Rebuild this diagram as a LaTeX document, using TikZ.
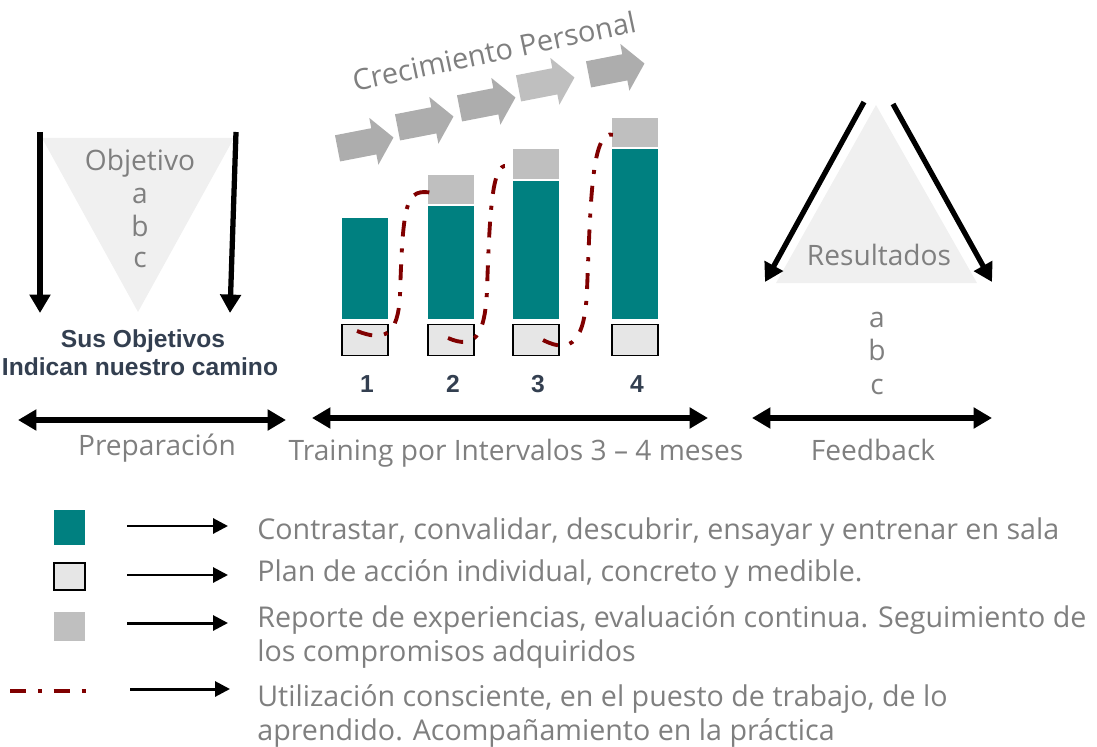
\documentclass[tikz,border=0pt]{standalone}
\usepackage{fontspec}
\setmainfont{Open Sans}
\newfontfamily\arialfont{Liberation Sans}
\usepackage{xcolor}
\definecolor{colorPractice}{HTML}{008080}
\definecolor{colorReport}{HTML}{BFBFBF}
\definecolor{colorPlan}{HTML}{E6E6E6}
\definecolor{colorUse}{HTML}{800000}
\definecolor{colorText}{HTML}{7F7F7F}
\definecolor{colorDark}{HTML}{333F50}
\definecolor{colorShape}{HTML}{F0F0F0}
\colorlet{colorGrowth}{black!32}
\usetikzlibrary{arrows.meta, shapes.arrows, positioning}
\tikzset{
  lbl/.style={text=colorText, font=\fontsize{16}{20}\selectfont, inner sep=0pt},
  keytext/.style={lbl, anchor=base west, font=\fontsize{16.3}{20}\selectfont},
  dark/.style={text=colorDark, font=\arialfont\bfseries\fontsize{14}{17}\selectfont, inner sep=0pt},
  planbox/.style={draw=black, line width=0.9pt, fill=colorPlan, minimum width=0.92cm, minimum height=0.62cm, inner sep=0pt},
  usepath/.style={colorUse, line width=2.2pt, dash pattern=on 9pt off 6.8pt on 2.3pt off 6.8pt},
  downarrow/.style={line width=3pt, -{Triangle[length=10.5pt, width=11.5pt]}},
  spanarrow/.style={line width=3pt, {Triangle[length=10.5pt, width=11.5pt]}-{Triangle[length=10.5pt, width=11.5pt]}},
  keyarrow/.style={line width=1.7pt, -{Triangle[length=8.5pt, width=8.5pt]}},
  keysquare/.style={minimum width=0.62cm, inner sep=0pt},
  growth/.style={single arrow, fill=colorGrowth, rotate=11, minimum height=1.14cm, minimum width=0.94cm, inner xsep=0pt, inner ysep=0.26cm, single arrow head extend=0.21cm, single arrow tip angle=100},
}
\begin{document}
\begin{tikzpicture}[x=0.02cm, y=-0.02cm]
\useasboundingbox (0,0) rectangle (1097,746);

\fill[colorShape] (42,138) -- (234,138) -- (138,312) -- cycle;
\node[lbl, anchor=base] (obj) at (140,171) {Objetivo};
\foreach \ch/\yy in {a/204, b/236, c/268} \node[lbl, anchor=base] (obj\ch) at (140,\yy) {\ch};
\coordinate (objLtop) at (40,132); \coordinate (objLend) at (40,313);
\coordinate (objRtop) at (236,132); \coordinate (objRend) at (230,313);
\draw[downarrow] (objLtop) -- (objLend);
\draw[downarrow] (objRtop) -- (objRend);
\node[dark, anchor=base] (sus) at (143,347) {Sus Objetivos};
\node[dark, anchor=base] (indican) at (140,375) {Indican nuestro camino};

\foreach \i/\xx/\yy/\cc in {1/360/144/colorGrowth, 2/420/123/colorGrowth, 3/482/104/colorGrowth, 4/541/84/colorReport, 5/611/70/colorGrowth}
  \node[growth, fill=\cc] (grow\i) at (\xx,\yy) {};
\node[lbl, rotate=12, font=\fontsize{16.5}{20}\selectfont] (growtxt) at (494,51) {Crecimiento Personal};

\foreach \i/\bx/\tp/\gp in {1/342/218/218, 2/428/206/175, 3/513/181/149, 4/612/149/118} {
  \fill[colorPractice] (\bx,\tp) rectangle (\bx+46,319);
  \ifnum\gp<\tp \fill[colorReport] (\bx,\gp) rectangle (\bx+46,\tp-2); \fi
  \node[planbox] (box\i) at (\bx+23,340) {};
  \node[dark, font=\arialfont\bfseries\fontsize{14}{16}\selectfont, anchor=base] (num\i) at (\bx+25,392) {\i};
}
\draw[usepath] (357,331) .. controls (385,342) and (398,335) .. (400,295) .. controls (403,200) and (406,188) .. (433,193);
\draw[usepath] (448,338) .. controls (475,350) and (485,335) .. (487,290) .. controls (490,200) and (493,158) .. (510,167);
\draw[usepath] (543,340) .. controls (572,355) and (585,340) .. (587,290) .. controls (591,190) and (592,120) .. (618,137);

\fill[colorShape] (876,105) -- (776,283) -- (977,283) -- cycle;
\coordinate (resLtop) at (864,102); \coordinate (resLend) at (765,282);
\coordinate (resRtop) at (893,104); \coordinate (resRend) at (992,282);
\draw[downarrow] (resLtop) -- (resLend);
\draw[downarrow] (resRtop) -- (resRend);
\node[lbl, anchor=base] (res) at (879,265) {Resultados};
\foreach \ch/\yy in {a/327, b/360, c/394} \node[lbl, anchor=base] (res\ch) at (877,\yy) {\ch};

\coordinate (prepL) at (18,420); \coordinate (prepR) at (286,420);
\coordinate (trainL) at (312,418); \coordinate (trainR) at (708,418);
\coordinate (feedL) at (752,418); \coordinate (feedR) at (992,418);
\draw[spanarrow] (prepL) -- (prepR);
\draw[spanarrow] (trainL) -- (trainR);
\draw[spanarrow] (feedL) -- (feedR);
\node[lbl, anchor=base] (prep) at (157,455) {Preparación};
\node[lbl, anchor=base] (train) at (516,460) {Training por Intervalos 3 – 4 meses};
\node[lbl, anchor=base] (feed) at (873,460) {Feedback};

\node[keysquare, fill=colorPractice, minimum height=0.7cm] (keyPractice) at (69.5,527.5) {};
\node[planbox, minimum width=0.62cm, minimum height=0.54cm] (keyPlan) at (69.5,576.5) {};
\node[keysquare, fill=colorReport, minimum height=0.58cm] (keyReport) at (69.5,626.5) {};
\coordinate (keyUseL) at (10,691); \coordinate (keyUseR) at (89,691);
\draw[usepath] (keyUseL) -- (keyUseR);
\foreach \k/\yy/\xa/\xb in {Practice/526/127/228, Plan/575/127/228, Report/623/127/228, Use/689/130/230} {
  \coordinate (arr\k A) at (\xa,\yy); \coordinate (arr\k B) at (\xb,\yy);
  \draw[keyarrow] (arr\k A) -- (arr\k B);
}
\node[keytext] (txtPractice) at (257,539) {Contrastar, convalidar, descubrir, ensayar y entrenar en sala};
\node[keytext] (txtPlan) at (257,581) {Plan de acción individual, concreto y medible.};
\node[keytext] (txtReport) at (257,627) {Reporte de experiencias, evaluación continua. Seguimiento de};
\node[keytext] (txtReportB) at (257,661) {los compromisos adquiridos};
\node[keytext] (txtUse) at (257,706) {Utilización consciente, en el puesto de trabajo, de lo};
\node[keytext] (txtUseB) at (257,740) {aprendido. Acompañamiento en la práctica};
\end{tikzpicture}
\end{document}
